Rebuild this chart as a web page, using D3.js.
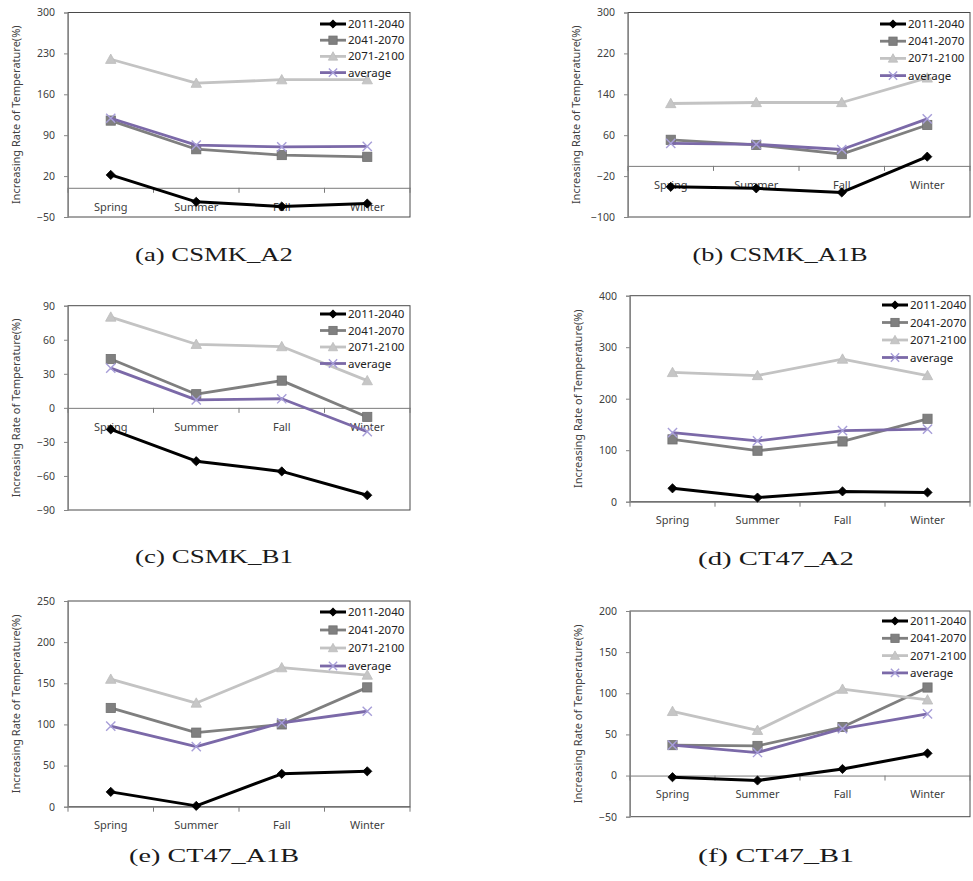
<!DOCTYPE html>
<html>
<head>
<meta charset="utf-8">
<script src="https://cdn.jsdelivr.net/npm/d3@7"></script>
<style>
  html, body { margin: 0; padding: 0; background: #fff; }
  svg { display: block; }
</style>
</head>
<body>
<svg id="chart" width="973" height="881"></svg>
<script>
// ---------- DATA ----------
const seasons = ["Spring", "Summer", "Fall", "Winter"];
const seriesNames = ["2011-2040", "2041-2070", "2071-2100", "average"];

// (a) CSMK_A2
const csmkA2_2011 = [22, -24, -32, -27];
const csmkA2_2041 = [115, 66, 56, 53];
const csmkA2_2071 = [220, 179, 185, 185];
const csmkA2_avg  = [119, 73, 70, 71];
const csmkA2_ticks = [-50, 20, 90, 160, 230, 300];

// (b) CSMK_A1B
const csmkA1B_2011 = [-41, -44, -52, 18];
const csmkA1B_2041 = [51, 41, 23, 80];
const csmkA1B_2071 = [122, 124, 124, 172];
const csmkA1B_avg  = [44, 42, 32, 92];
const csmkA1B_ticks = [-100, -20, 60, 140, 220, 300];

// (c) CSMK_B1
const csmkB1_2011 = [-19, -47, -56, -77];
const csmkB1_2041 = [43, 12, 24, -8];
const csmkB1_2071 = [80, 56, 54, 24];
const csmkB1_avg  = [35, 7, 8, -21];
const csmkB1_ticks = [-90, -60, -30, 0, 30, 60, 90];

// (d) CT47_A2
const ct47A2_2011 = [26, 8, 20, 18];
const ct47A2_2041 = [121, 99, 117, 161];
const ct47A2_2071 = [251, 245, 277, 245];
const ct47A2_avg  = [134, 118, 138, 141];
const ct47A2_ticks = [0, 100, 200, 300, 400];

// (e) CT47_A1B
const ct47A1B_2011 = [18, 1, 40, 43];
const ct47A1B_2041 = [120, 90, 100, 145];
const ct47A1B_2071 = [155, 126, 169, 160];
const ct47A1B_avg  = [98, 73, 102, 116];
const ct47A1B_ticks = [0, 50, 100, 150, 200, 250];

// (f) CT47_B1
const ct47B1_2011 = [-2, -6, 8, 27];
const ct47B1_2041 = [37, 36, 59, 107];
const ct47B1_2071 = [78, 55, 105, 92];
const ct47B1_avg  = [37, 28, 57, 75];
const ct47B1_ticks = [-50, 0, 50, 100, 150, 200];

const captions = ["(a)  CSMK_A2", "(b)  CSMK_A1B", "(c)  CSMK_B1", "(d)  CT47_A2", "(e)  CT47_A1B", "(f)  CT47_B1"];
const yTitle = "Increasing Rate of Temperature(%)";

// ---------- LAYOUT ----------
const panels = [
  { values: [csmkA2_2011, csmkA2_2041, csmkA2_2071, csmkA2_avg], ticks: csmkA2_ticks,
    x0: 68, x1: 410, y0: 12.5, y1: 217, legTop: 24, legStep: 16.2, capX: 214, capY: 261, capW: 158 },
  { values: [csmkA1B_2011, csmkA1B_2041, csmkA1B_2071, csmkA1B_avg], ticks: csmkA1B_ticks,
    x0: 628, x1: 970, y0: 12.5, y1: 217, legTop: 24, legStep: 17.2, capX: 780, capY: 261, capW: 175 },
  { values: [csmkB1_2011, csmkB1_2041, csmkB1_2071, csmkB1_avg], ticks: csmkB1_ticks,
    x0: 68, x1: 410, y0: 305.7, y1: 510, legTop: 314, legStep: 16.5, capX: 214, capY: 563, capW: 158 },
  { values: [ct47A2_2011, ct47A2_2041, ct47A2_2071, ct47A2_avg], ticks: ct47A2_ticks,
    x0: 630, x1: 970, y0: 295.7, y1: 501.7, legTop: 305, legStep: 17.5, capX: 776, capY: 565, capW: 156 },
  { values: [ct47A1B_2011, ct47A1B_2041, ct47A1B_2071, ct47A1B_avg], ticks: ct47A1B_ticks,
    x0: 68, x1: 410, y0: 601, y1: 806.7, legTop: 612, legStep: 18, capX: 214, capY: 862, capW: 170 },
  { values: [ct47B1_2011, ct47B1_2041, ct47B1_2071, ct47B1_avg], ticks: ct47B1_ticks,
    x0: 630, x1: 970, y0: 611, y1: 816.7, legTop: 621, legStep: 17.3, capX: 776, capY: 862, capW: 156 }
];

const styles = [
  { color: "#000000", width: 3,   marker: "diamond",  mfill: "#000000", mstroke: "#000000" },
  { color: "#7f7f7f", width: 2.8, marker: "square",   mfill: "#808080", mstroke: "#6f6f6f" },
  { color: "#c3c3c3", width: 2.8, marker: "triangle", mfill: "#c6c6c6", mstroke: "#bdbdbd" },
  { color: "#7b69a8", width: 2.8, marker: "x",        mfill: "none",    mstroke: "#a79ed8" }
];

const svg = d3.select("#chart");
const FONT = "'Noto Sans', 'Open Sans', sans-serif";

function drawMarker(g, type, cx, cy, st, s) {
  s = s || 1;
  if (type === "diamond") {
    const r = 4.6 * s;
    g.append("path").attr("d", `M${cx},${cy - r}L${cx + r},${cy}L${cx},${cy + r}L${cx - r},${cy}Z`)
      .attr("fill", st.mfill).attr("stroke", st.mstroke).attr("stroke-width", 0.8);
  } else if (type === "square") {
    const r = 4.6 * s;
    g.append("rect").attr("x", cx - r).attr("y", cy - r).attr("width", 2 * r).attr("height", 2 * r)
      .attr("fill", st.mfill).attr("stroke", st.mstroke).attr("stroke-width", 0.8);
  } else if (type === "triangle") {
    const r = 5.2 * s;
    g.append("path").attr("d", `M${cx},${cy - r}L${cx + r},${cy + r * 0.8}L${cx - r},${cy + r * 0.8}Z`)
      .attr("fill", st.mfill).attr("stroke", st.mstroke).attr("stroke-width", 0.8);
  } else if (type === "x") {
    const r = 4.6 * s;
    g.append("path").attr("d", `M${cx - r},${cy - r}L${cx + r},${cy + r}M${cx - r},${cy + r}L${cx + r},${cy - r}`)
      .attr("fill", "none").attr("stroke", st.mstroke).attr("stroke-width", 1.4);
  }
}

panels.forEach((p, pi) => {
  const g = svg.append("g");
  const ext = d3.extent(p.ticks);
  const y = d3.scaleLinear().domain(ext).range([p.y1, p.y0]);
  const x = d3.scaleBand().domain(seasons).range([p.x0, p.x1]);
  const xc = d => x(d) + x.bandwidth() / 2;

  // plot area border
  g.append("rect").attr("x", p.x0).attr("y", p.y0).attr("width", p.x1 - p.x0).attr("height", p.y1 - p.y0)
    .attr("fill", "none").attr("stroke", "#4a4a4a").attr("stroke-width", 1);

  // y axis
  const yAxis = d3.axisLeft(y).tickValues(p.ticks).tickSize(4).tickPadding(9).tickFormat(d3.format("d"));
  const ya = g.append("g").attr("transform", `translate(${p.x0},0)`).call(yAxis);
  ya.select(".domain").attr("stroke", "#868686");
  ya.selectAll(".tick line").attr("stroke", "#868686");
  ya.selectAll(".tick text").attr("font-family", FONT).attr("font-size", 10.5).attr("fill", "#404040");

  // category axis at zero
  const y0v = y(Math.max(ext[0], 0));
  const xAxis = d3.axisBottom(x).tickSize(0).tickPadding(15);
  const xa = g.append("g").attr("transform", `translate(0,${y0v})`).call(xAxis);
  xa.select(".domain").attr("stroke", "#7a7a7a");
  xa.selectAll(".tick text").attr("font-family", FONT).attr("font-size", 11).attr("fill", "#404040");
  const bounds = seasons.map(s => x(s)).concat([p.x1]);
  g.selectAll(null).data(bounds).enter().append("line")
    .attr("x1", d => d).attr("x2", d => d).attr("y1", y0v).attr("y2", y0v + 5)
    .attr("stroke", "#7a7a7a").attr("stroke-width", 1);

  // y title
  g.append("text")
    .attr("transform", `translate(${p.x0 - 48},${(p.y0 + p.y1) / 2}) rotate(-90)`)
    .attr("text-anchor", "middle").attr("font-family", FONT).attr("font-size", 11)
    .attr("fill", "#404040").text(yTitle);

  // series
  const line = d3.line().x((d, i) => xc(seasons[i])).y(d => y(d));
  p.values.forEach((vals, si) => {
    const st = styles[si];
    g.append("path").datum(vals).attr("d", line).attr("fill", "none")
      .attr("stroke", st.color).attr("stroke-width", st.width).attr("stroke-linejoin", "round");
    vals.forEach((v, i) => drawMarker(g, st.marker, xc(seasons[i]), y(v), st));
  });

  // legend
  const lx = p.x0 + 252;
  seriesNames.forEach((name, si) => {
    const st = styles[si];
    const ly = p.legTop + si * p.legStep;
    g.append("line").attr("x1", lx).attr("x2", lx + 26).attr("y1", ly).attr("y2", ly)
      .attr("stroke", st.color).attr("stroke-width", st.width);
    drawMarker(g, st.marker, lx + 13, ly, st, 0.9);
    g.append("text").attr("x", lx + 28).attr("y", ly + 4).attr("font-family", FONT)
      .attr("font-size", 11.5).attr("fill", "#222").text(name);
  });

  // caption (thin serif glyphs, scaled horizontally to the measured width)
  const cap = svg.append("text").attr("x", 0).attr("y", 0).attr("text-anchor", "middle")
    .attr("font-family", "'Liberation Serif', 'DejaVu Serif', serif").attr("font-size", 19)
    .attr("fill", "#1a1a1a").text(captions[pi]);
  const len = cap.node().getComputedTextLength();
  const sx = len > 0 ? p.capW / len : 1;
  cap.attr("transform", `translate(${p.capX},${p.capY}) scale(${sx},1)`);
});
</script>
</body>
</html>
